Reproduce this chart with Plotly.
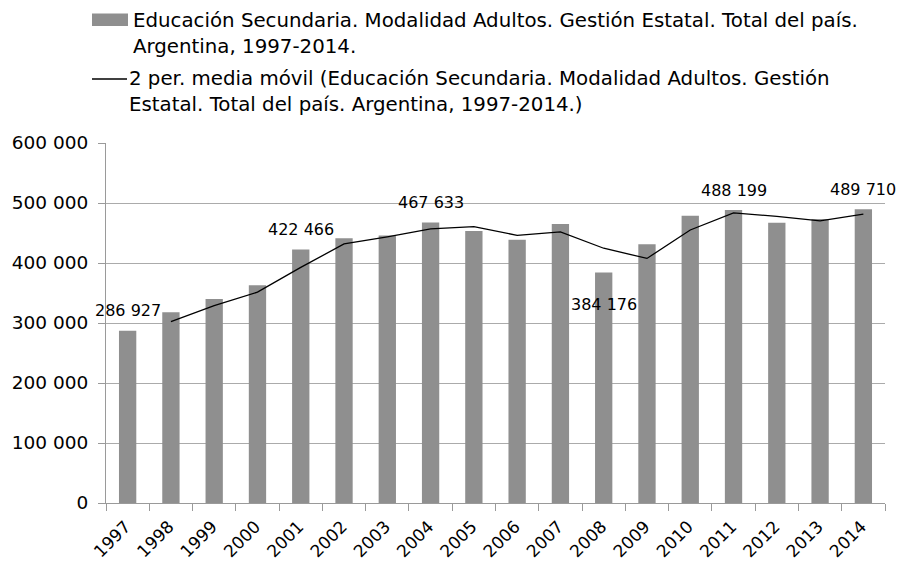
import plotly.graph_objects as go
import pandas as pd

years = ["1997", "1998", "1999", "2000", "2001", "2002", "2003", "2004", "2005",
         "2006", "2007", "2008", "2009", "2010", "2011", "2012", "2013", "2014"]
students = [286927, 318000, 340000, 362800, 422466, 441100, 446000, 467633, 453300,
            438900, 465000, 384176, 431100, 478900, 488199, 467200, 473300, 489710]
labeled_years = ["1997", "2001", "2004", "2008", "2011", "2014"]

bar_name_lines = ["Educación Secundaria. Modalidad Adultos. Gestión Estatal. Total del país.",
                  "Argentina, 1997-2014."]
ma_name_lines = ["2 per. media móvil (Educación Secundaria. Modalidad Adultos. Gestión",
                 "Estatal. Total del país. Argentina, 1997-2014.)"]

moving_avg = pd.Series(students, dtype=float).rolling(2).mean()
ma_years = years[1:]
ma_vals = list(moving_avg[1:])

FONT = "DejaVu Sans, sans-serif"
BAR_COLOR = "#8F8F8F"
AXIS_COLOR = "#9A9A9A"
GRID_COLOR = "#ABABAB"

# plot-area geometry in pixels (for placing the hand-drawn legend)
W, H = 902, 567
L, R, T, B = 106, 17, 143, 64
def px(x):
    return (x - L) / (W - L - R)
def py(y):
    return (H - B - y) / (H - T - B)

fig = go.Figure()
fig.add_trace(go.Bar(x=years, y=students, name=" ".join(bar_name_lines),
                     marker=dict(color=BAR_COLOR, line_width=0), showlegend=False))
fig.add_trace(go.Scatter(x=ma_years, y=ma_vals, mode="lines", name=" ".join(ma_name_lines),
                         line=dict(color="black", width=1.3), showlegend=False))

# data labels
label_shift = {"2008": -32}
for yr in labeled_years:
    i = years.index(yr)
    v = students[i]
    fig.add_annotation(x=i, y=v, xref="x", yref="y", text=f"{v:,}".replace(",", " "),
                       showarrow=False, yanchor="middle", yshift=label_shift.get(yr, 20),
                       font=dict(size=16, color="black", family=FONT))

# legend (drawn by hand to match the reference's layout)
fig.add_shape(type="rect", xref="paper", yref="paper", x0=px(92), x1=px(128),
              y0=py(26), y1=py(13.5), fillcolor=BAR_COLOR, line_width=0)
fig.add_shape(type="line", xref="paper", yref="paper", x0=px(92), x1=px(127),
              y0=py(79), y1=py(79), line=dict(color="black", width=1.3))
legend_rows = [(bar_name_lines[0], 131, 20.5), (bar_name_lines[1], 131, 46.5),
               (ma_name_lines[0], 127, 78.5), (ma_name_lines[1], 127, 104.5)]
for txt, x0, yc in legend_rows:
    fig.add_annotation(x=px(x0), y=py(yc), xref="paper", yref="paper", text=txt,
                       showarrow=False, xanchor="left", yanchor="middle",
                       font=dict(size=19.8, color="black", family=FONT))

fig.update_layout(
    width=W, height=H,
    margin=dict(l=L, r=R, t=T, b=B, autoexpand=False),
    paper_bgcolor="white", plot_bgcolor="white",
    separators=", ",
    bargap=0.6,
    font=dict(family=FONT, color="black"),
    showlegend=False,
)
fig.update_xaxes(type="category", range=[-0.5, 17.5], tickangle=-45, automargin=False,
                 tickfont=dict(size=17, family=FONT, color="black"), showline=True,
                 linecolor=AXIS_COLOR, linewidth=1, ticks="outside", tickson="boundaries",
                 ticklen=7, tickcolor=AXIS_COLOR, showgrid=False,
                 ticklabelshift=-2, ticklabelstandoff=6)
fig.update_yaxes(range=[0, 600000], dtick=100000, tickformat=",d", automargin=False,
                 tickfont=dict(size=18.5, family=FONT, color="black"), showline=True,
                 linecolor=AXIS_COLOR, linewidth=1, ticks="outside", ticklen=7,
                 tickcolor=AXIS_COLOR, ticklabelstandoff=6,
                 showgrid=True, gridcolor=GRID_COLOR, gridwidth=1, zeroline=False)

fig.write_html("out.html", config={"displayModeBar": False},
               post_script="document.body.style.margin='0';document.body.style.overflow='hidden';")
